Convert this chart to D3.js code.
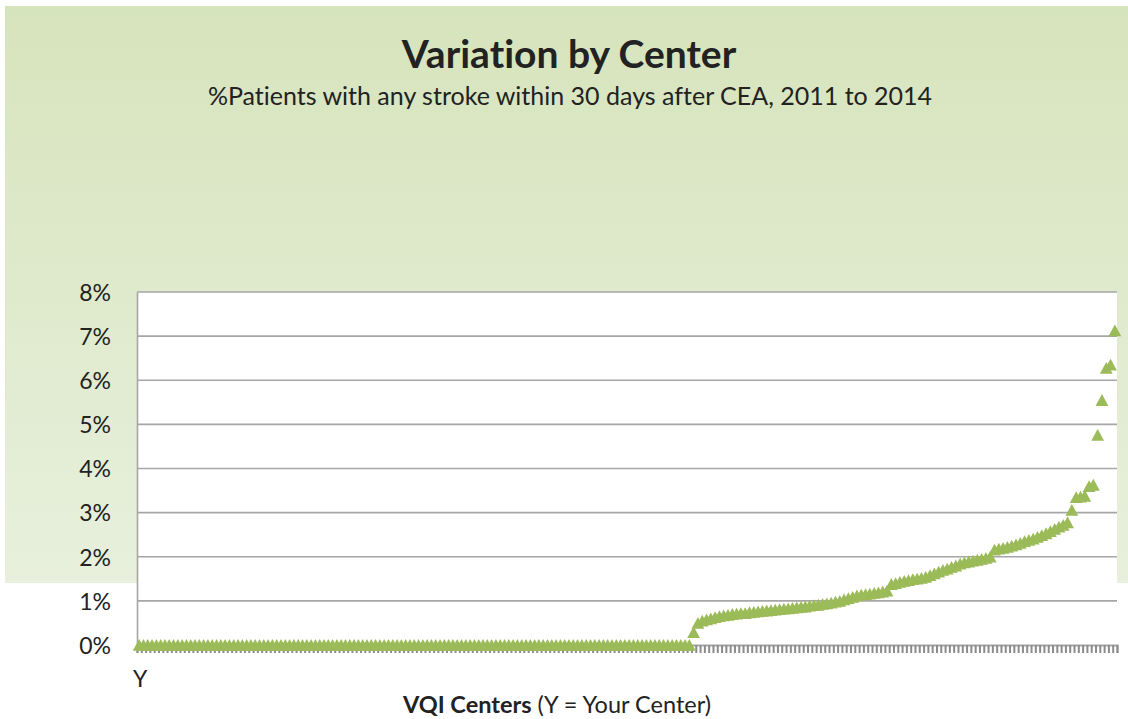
<!DOCTYPE html>
<html>
<head>
<meta charset="utf-8">
<script src="https://cdn.jsdelivr.net/npm/d3@7"></script>
<style>
  body { margin: 0; background: #fff; }
  svg { display: block; }
  text { font-variant-ligatures: none; }
</style>
</head>
<body>
<div id="chart"></div>
<script>
// Stroke rate (%) per VQI center, sorted ascending; first center is "Y" (your center)
const zeroCenters = [
  0,0,0,0,0,0,0,0,0,0, 0,0,0,0,0,0,0,0,0,0,
  0,0,0,0,0,0,0,0,0,0, 0,0,0,0,0,0,0,0,0,0,
  0,0,0,0,0,0,0,0,0,0, 0,0,0,0,0,0,0,0,0,0,
  0,0,0,0,0,0,0,0,0,0, 0,0,0,0,0,0,0,0,0,0,
  0,0,0,0,0,0,0,0,0,0, 0,0,0,0,0,0,0,0,0,0,
  0,0,0,0,0,0,0,0,0,0, 0,0,0,0,0,0,0,0,0,0,
  0,0,0,0,0,0,0,0,0
];
const nonZeroCenters = [
  0.29, 0.50, 0.55, 0.58, 0.60, 0.63, 0.65, 0.67, 0.68, 0.70,
  0.71, 0.72, 0.72, 0.74, 0.75, 0.76, 0.77, 0.78, 0.79, 0.80,
  0.81, 0.82, 0.83, 0.84, 0.85, 0.86, 0.87, 0.89, 0.90, 0.91,
  0.93, 0.94, 0.96, 0.98, 1.00, 1.03, 1.06, 1.09, 1.12, 1.14,
  1.15, 1.16, 1.18, 1.19, 1.21, 1.23, 1.38, 1.40, 1.43, 1.45,
  1.47, 1.49, 1.50, 1.52, 1.54, 1.58, 1.62, 1.66, 1.70, 1.73,
  1.77, 1.80, 1.84, 1.87, 1.89, 1.91, 1.93, 1.95, 1.97, 2.00,
  2.16, 2.18, 2.20, 2.22, 2.25, 2.28, 2.31, 2.35, 2.38, 2.41,
  2.45, 2.49, 2.53, 2.58, 2.63, 2.68, 2.72, 2.78, 3.06, 3.35,
  3.36, 3.38, 3.60, 3.63, 4.76, 5.55, 6.28, 6.35, 7.13
];
const yTicks = [0, 1, 2, 3, 4, 5, 6, 7, 8];
const yourCenterLabel = 'Y';

const titleText = 'Variation by Center';
const subtitleText = '%Patients with any stroke within 30 days after CEA, 2011 to 2014';

const rates = zeroCenters.concat(nonZeroCenters);
const centers = rates.map((v, i) => i);

const width = 1128, height = 719;
const margin = { left: 137, right: 11, top: 292, bottom: 74 };
const font = 'Lato, "Open Sans", sans-serif';
const green = '#9bbb59';
const grid = '#a6a6a6';

const svg = d3.select('#chart').append('svg')
  .attr('width', width)
  .attr('height', height);

// Green gradient panel behind the titles
const defs = svg.append('defs');
const grad = defs.append('linearGradient')
  .attr('id', 'bg')
  .attr('x1', 0).attr('y1', 0).attr('x2', 0).attr('y2', 1);
grad.append('stop').attr('offset', '0%').attr('stop-color', '#d6e4bc');
grad.append('stop').attr('offset', '100%').attr('stop-color', '#e8f0dd');

svg.append('rect')
  .attr('x', 5).attr('y', 6)
  .attr('width', width - 5).attr('height', 577)
  .attr('fill', 'url(#bg)');

const x = d3.scaleBand()
  .domain(centers)
  .range([margin.left, width - margin.right])
  .padding(0);

const xEdge = d3.scaleLinear()
  .domain([0, centers.length])
  .range([margin.left, width - margin.right]);

const y = d3.scaleLinear()
  .domain([0, 8])
  .range([height - margin.bottom, margin.top]);

// Plot area
svg.append('rect')
  .attr('x', margin.left)
  .attr('y', margin.top)
  .attr('width', width - margin.right - margin.left)
  .attr('height', y(0) - margin.top)
  .attr('fill', '#fff');

// Gridlines
svg.append('g')
  .selectAll('line')
  .data(yTicks.filter(d => d > 0))
  .join('line')
  .attr('x1', margin.left)
  .attr('x2', width - margin.right)
  .attr('y1', d => y(d))
  .attr('y2', d => y(d))
  .attr('stroke', grid)
  .attr('stroke-width', 1.6);

// Y axis
const yAxis = svg.append('g')
  .attr('transform', `translate(${margin.left},0)`)
  .call(d3.axisLeft(y).tickValues(yTicks).tickSize(0).tickPadding(26).tickFormat(d => d + '%'));
yAxis.select('.domain').attr('stroke', grid).attr('stroke-width', 1.6);
yAxis.selectAll('text')
  .attr('font-family', font)
  .attr('font-size', '23px')
  .attr('fill', '#222')
  .attr('dy', '0.36em');

// X axis: tick marks between categories
const xAxis = svg.append('g')
  .attr('transform', `translate(0,${y(0)})`)
  .call(d3.axisBottom(xEdge).tickValues(d3.range(centers.length + 1)).tickSize(8).tickFormat(''));
xAxis.select('.domain').attr('stroke', grid).attr('stroke-width', 2);
xAxis.selectAll('.tick line').attr('stroke', '#8c8c8c').attr('stroke-width', 2);

// Category label for your center
svg.append('text')
  .attr('x', x(0) + x.bandwidth() / 2 + 1)
  .attr('y', 687)
  .attr('text-anchor', 'middle')
  .attr('font-family', font)
  .attr('font-size', '23px')
  .attr('fill', '#222')
  .text(yourCenterLabel);

// Triangle markers
const triangle = {
  draw(ctx) {
    ctx.moveTo(0, -6);
    ctx.lineTo(6.4, 5.8);
    ctx.lineTo(-6.4, 5.8);
    ctx.closePath();
  }
};
svg.append('g')
  .selectAll('path')
  .data(rates)
  .join('path')
  .attr('transform', (d, i) => `translate(${x(i) + x.bandwidth() / 2},${y(d)})`)
  .attr('d', d3.symbol().type(triangle))
  .attr('fill', green);

// Titles
svg.append('text')
  .attr('x', 569).attr('y', 68)
  .attr('text-anchor', 'middle')
  .attr('font-family', font)
  .attr('font-weight', 700)
  .attr('font-size', '39px')
  .attr('fill', '#222')
  .text(titleText);

svg.append('text')
  .attr('x', 570).attr('y', 105)
  .attr('text-anchor', 'middle')
  .attr('font-family', font)
  .attr('font-size', '25px')
  .attr('fill', '#222')
  .text(subtitleText);

const xTitle = svg.append('text')
  .attr('x', 557).attr('y', 713)
  .attr('text-anchor', 'middle')
  .attr('font-family', font)
  .attr('font-size', '23.5px')
  .attr('fill', '#222');
xTitle.append('tspan').attr('font-weight', 700).text('VQI Centers');
xTitle.append('tspan').text(' (Y = Your Center)');
</script>
</body>
</html>
